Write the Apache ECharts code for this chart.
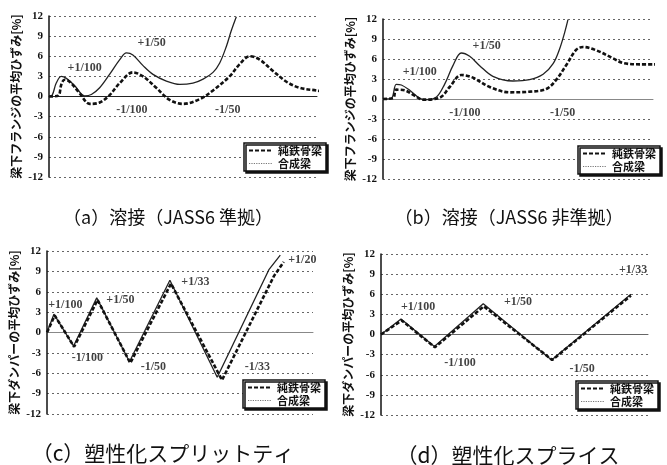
<!DOCTYPE html>
<html><head><meta charset="utf-8">
<script src="https://cdn.jsdelivr.net/npm/echarts@6/dist/echarts.min.js"></script>
<style>html,body{margin:0;padding:0;background:#fff}#c{width:667px;height:465px}</style>
</head><body><div id="c"></div>
<script>
// ---- data (x = loading step, y = average strain [%]) ----
const seriesNames = ['純鉄骨梁', '合成梁'];
const yMin = -12, yMax = 12, yStep = 3;
const nameFlange = '梁下フランジの平均ひずみ[%]';
const nameDamper = '梁下ダンパーの平均ひずみ[%]';
const titles = ['（a）溶接（JASS6 準拠）', '（b）溶接（JASS6 非準拠）', '（c）塑性化スプリットティ', '（d）塑性化スプライス'];

const aSteel = [[0,0],[3.4,0.1],[4.6,1.8],[5.8,2.5],[7.7,2.2],[11.4,0.5],[15.2,-1.1],[18.9,-0.9],[22.6,0.2],[26.4,2.0],[31.3,3.6],[35.1,3.0],[40.0,1.3],[45.0,-0.5],[50.0,-1.1],[56.2,-0.4],[61.2,0.9],[67.4,3.0],[71.1,4.8],[74.9,6.0],[78.6,5.5],[83.6,3.8],[88.6,2.2],[93.5,1.3],[99.8,0.9],[104.7,0.6]];
const aComp = [[0,0],[1.2,0.2],[2.7,2.0],[4.6,3.0],[6.5,2.7],[9.6,1.6],[13.3,0.1],[15.8,0.3],[18.9,1.3],[22.6,3.3],[26.4,5.5],[28.9,6.5],[31.3,6.2],[35.1,4.6],[38.8,3.3],[43.8,2.3],[48.8,1.8],[53.7,2.0],[57.5,2.6],[61.2,3.6],[63.7,5.0],[66.2,7.5],[68.0,9.8],[69.9,11.9]];
const aAnn = [[13.3,4.2,'+1/100'],[38.3,8.0,'+1/50'],[30.9,-2.0,'-1/100'],[66.7,-2.0,'-1/50']];

const bSteel = [[0,0],[3.7,0.1],[4.9,1.4],[8.0,1.3],[11.7,0.5],[14.8,-0.1],[21.0,0.2],[24.7,1.8],[29.0,3.6],[33.3,3.2],[39.5,1.8],[46.9,1.0],[54.3,1.1],[60.5,1.5],[64.2,2.9],[67.9,5.1],[71.6,7.4],[74.1,7.8],[79.0,7.3],[85.2,6.1],[88.9,5.4],[95.1,5.2],[101.0,5.2]];
const bComp = [[0,0],[3.1,0.1],[4.9,2.2],[6.8,2.1],[9.9,1.3],[13.6,0.1],[16.0,-0.1],[19.8,0.3],[22.8,2.2],[25.9,5.0],[29.0,6.9],[32.1,6.4],[35.8,5.0],[40.7,3.4],[48.1,2.7],[54.3,2.9],[59.3,3.7],[63.0,5.3],[65.4,7.5],[67.3,10.0],[68.5,11.9]];
const bAnn = [[13.6,4.1,'+1/100'],[38.4,8.0,'+1/50'],[30.3,-2.1,'-1/100'],[66.5,-2.1,'-1/50']];

const cSteel = [[0,0],[2.9,2.5],[10.2,-2.1],[19.0,4.8],[31.3,-4.5],[46.6,7.2],[65.8,-7.0],[85.3,8.3],[89.0,10.4]];
const cComp = [[0,0],[2.6,2.7],[10.0,-2.0],[18.7,5.1],[31.0,-4.3],[46.2,7.7],[64.0,-6.6],[83.5,9.3],[87.7,11.4]];
const cAnn = [[6.9,4.1,'+1/100'],[27.6,4.8,'+1/50'],[55.8,7.5,'+1/33'],[96.0,10.7,'+1/20'],[15.2,-3.7,'-1/100'],[40.0,-5.1,'-1/50'],[79.1,-5.1,'-1/33']];

const dSteel = [[0,0],[7.7,2.1],[20.2,-1.9],[38.5,4.2],[64.1,-3.8],[93.6,5.8]];
const dComp = [[0,0],[7.5,2.3],[20.0,-1.8],[38.3,4.6],[63.9,-3.8],[93.6,6.0]];
const dAnn = [[13.9,4.1,'+1/100'],[51.3,4.8,'+1/50'],[94.4,9.6,'+1/33'],[29.6,-4.3,'-1/100'],[75.3,-5.2,'-1/50']];

// ---- layout ----
const panels = [
  {grid:{left:49, top:16, width:268, height:161}, yName:nameFlange, steel:aSteel, comp:aComp, ann:aAnn, smooth:true, zero:'#222', legend:{left:244, top:143}, title:{x:168, y:217, size:18}},
  {grid:{left:383, top:19, width:270, height:160}, yName:nameFlange, steel:bSteel, comp:bComp, ann:bAnn, smooth:true, zero:'#888', legend:{left:578, top:146}, title:{x:509, y:217, size:18}},
  {grid:{left:47, top:251, width:266, height:163}, yName:nameDamper, steel:cSteel, comp:cComp, ann:cAnn, smooth:false, zero:'#888', legend:{left:243, top:380}, title:{x:163, y:453, size:21}},
  {grid:{left:381, top:254, width:267, height:161}, yName:nameDamper, steel:dSteel, comp:dComp, ann:dAnn, smooth:false, zero:'#666', legend:{left:576, top:381}, title:{x:508, y:455, size:21}}
];

const grids = [], xAxes = [], yAxes = [], series = [], legends = [], graphics = [];
panels.forEach((p, i) => {
  grids.push(Object.assign({containLabel:false}, p.grid));
  xAxes.push({type:'value', gridIndex:i, min:0, max:100, axisLine:{show:true, onZero:true, lineStyle:{color:p.zero, width:1}},
    axisTick:{show:false}, axisLabel:{show:false}, splitLine:{show:false}});
  yAxes.push({type:'value', gridIndex:i, min:yMin, max:yMax, interval:yStep,
    name:p.yName, nameLocation:'middle', nameGap:27, nameRotate:90,
    nameTextStyle:{fontFamily:'Noto Sans CJK JP', fontSize:12, fontWeight:'bold', color:'#111'},
    axisLine:{show:true, lineStyle:{color:'#111', width:1.5}}, axisTick:{show:false},
    axisLabel:{fontFamily:'Liberation Serif', fontWeight:'bold', fontSize:11, color:'#111', margin:6},
    splitLine:{show:true, lineStyle:{type:[2,3], color:'#666', width:1}}});
  series.push({name:seriesNames[0], type:'line', xAxisIndex:i, yAxisIndex:i, data:p.steel, smooth:p.smooth?0.35:false,
    symbol:'none', clip:false, z:3, itemStyle:{color:'#111'}, lineStyle:{color:'#111', width:2.6, type:[4,2]}});
  series.push({name:seriesNames[1], type:'line', xAxisIndex:i, yAxisIndex:i, data:p.comp, smooth:p.smooth?0.35:false,
    symbol:'none', clip:false, z:2, itemStyle:{color:'#222'}, lineStyle:{color:'#222', width:1.3, type:'solid'}});
  series.push({name:'ann'+i, type:'scatter', xAxisIndex:i, yAxisIndex:i, silent:true, symbolSize:1,
    itemStyle:{color:'rgba(0,0,0,0)'},
    data:p.ann.map(a => ({value:[a[0], a[1]], name:a[2]})),
    label:{show:true, position:'inside', formatter:'{b}', fontFamily:'Liberation Serif', fontWeight:'bold', fontSize:12, color:'#111'}});
  legends.push({left:p.legend.left, top:p.legend.top, orient:'vertical', selectedMode:false,
    data:[{name:seriesNames[0]}, {name:seriesNames[1], lineStyle:{type:'dotted', color:'#777', width:1.2}}],
    itemStyle:{opacity:0},
    itemWidth:24, itemHeight:8, itemGap:2, padding:[2,4,2,4],
    backgroundColor:'#fff', borderColor:'#111', borderWidth:1.5,
    shadowColor:'#111', shadowOffsetX:2, shadowOffsetY:2, shadowBlur:0,
    textStyle:{fontFamily:'Noto Sans CJK JP', fontSize:11, fontWeight:'bold', color:'#111'}});
  graphics.push({type:'text', x:p.title.x, y:p.title.y, style:{text:titles[i], fontFamily:'Noto Sans CJK JP', fontSize:p.title.size,
    fill:'#111', align:'center', verticalAlign:'middle'}});
});

const chart = echarts.init(document.getElementById('c'), null, {renderer:'canvas'});
chart.setOption({animation:false, backgroundColor:'#fff', grid:grids, xAxis:xAxes, yAxis:yAxes, series:series, legend:legends, graphic:graphics});
</script></body></html>
